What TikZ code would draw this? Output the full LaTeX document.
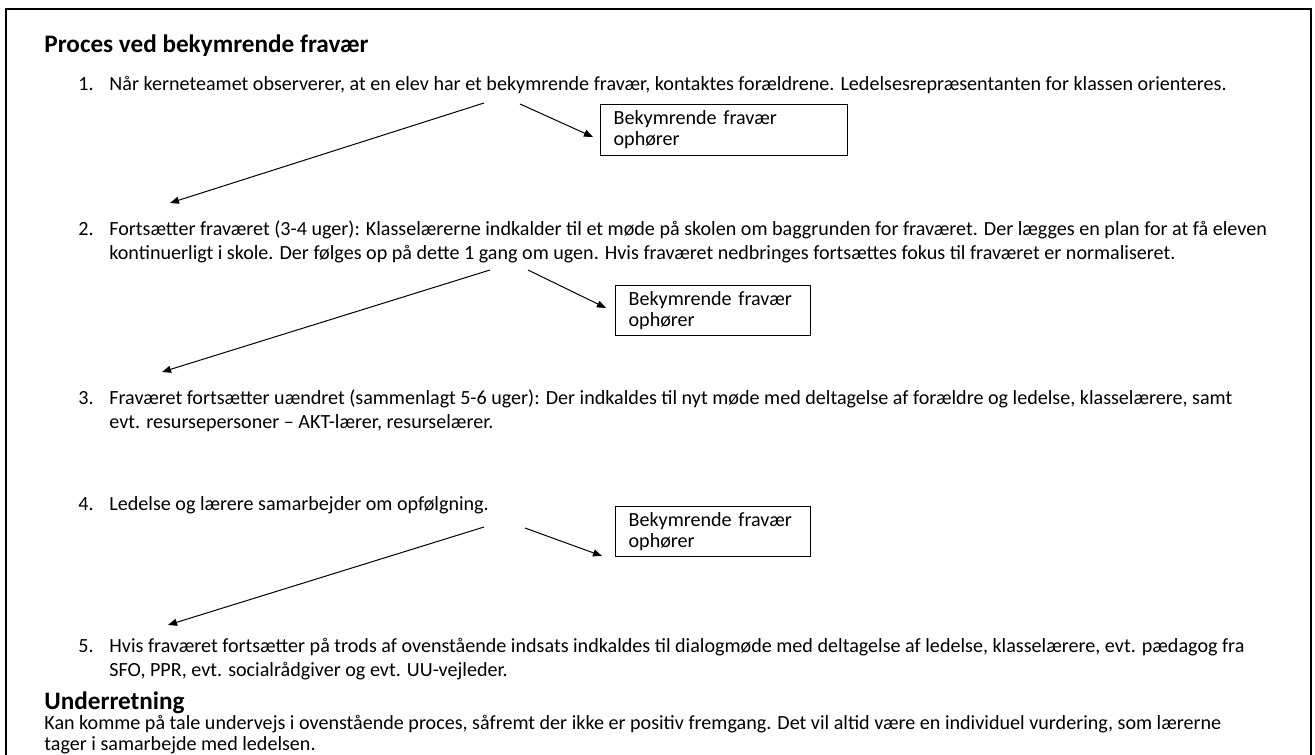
\documentclass[tikz,border=0pt]{standalone}
\usepackage{fontspec}
\setmainfont{Carlito}
\usetikzlibrary{arrows.meta}
\begin{document}
\begin{tikzpicture}[x=0.5pt,y=-0.5pt,
  body/.style={anchor=base west, inner sep=0pt, align=left, font=\fontsize{10.05}{12}\selectfont},
  head/.style={anchor=base west, inner sep=0pt, font=\fontsize{12.6}{14}\selectfont\bfseries},
  stopbox/.style={draw, line width=0.6pt, anchor=north west, align=left, inner xsep=6.5pt, inner ysep=0pt,
     font=\fontsize{10.05}{10.5}\selectfont},
  flow/.style={line width=0.5pt, -{Triangle[length=4.5pt,width=3.5pt]}}]
\useasboundingbox (0,0) rectangle (1315,754);
\draw[line width=1pt] (6,790) -- (6,9) -- (1311,9) -- (1311,790);

\node[head] (title) at (44,53) {Proces ved bekymrende fravær};

\node[body] (n1) at (78,91) {1.};
\node[body] (t1) at (109,91) {Når kerneteamet observerer, at en elev har et bekymrende fravær, kontaktes forældrene. Ledelsesrepræsentanten for klassen orienteres.};

\node[stopbox, text width=110.5pt, minimum height=25.5pt] (b1) at (600,104) {Bekymrende fravær\\ophører};

\node[body] (n2) at (78,235) {2.};
\node[body] (t2) at (109,259) {Fortsætter fraværet (3-4 uger): Klasselærerne indkalder til et møde på skolen om baggrunden for fraværet. Der lægges en plan for at få eleven\\kontinuerligt i skole. Der følges op på dette 1 gang om ugen. Hvis fraværet nedbringes fortsættes fokus til fraværet er normaliseret.};

\node[stopbox, text width=84.5pt, minimum height=25pt] (b2) at (615,285) {Bekymrende fravær\\ophører};

\node[body] (n3) at (78,404) {3.};
\node[body] (t3) at (109,428) {Fraværet fortsætter uændret (sammenlagt 5-6 uger): Der indkaldes til nyt møde med deltagelse af forældre og ledelse, klasselærere, samt\\evt. resursepersoner – AKT-lærer, resurselærer.};

\node[body] (n4) at (78,510) {4.};
\node[body] (t4) at (109,510) {Ledelse og lærere samarbejder om opfølgning.};

\node[stopbox, text width=84.5pt, minimum height=25pt] (b3) at (615,506) {Bekymrende fravær\\ophører};

\node[body] (n5) at (78,652) {5.};
\node[body] (t5) at (109,676) {Hvis fraværet fortsætter på trods af ovenstående indsats indkaldes til dialogmøde med deltagelse af ledelse, klasselærere, evt. pædagog fra\\SFO, PPR, evt. socialrådgiver og evt. UU-vejleder.};

\node[head] (under) at (44,709) {Underretning};
\node[body, font=\fontsize{10.05}{10.5}\selectfont] (t6) at (44,750) {Kan komme på tale undervejs i ovenstående proces, såfremt der ikke er positiv fremgang. Det vil altid være en individuel vurdering, som lærerne\\tager i samarbejde med ledelsen.};

\coordinate (s1l) at (484,103);
\coordinate (e1l) at (170,203);
\coordinate (s1r) at (520,104);
\coordinate (e1r) at (593,137);
\coordinate (s2l) at (490,270);
\coordinate (e2l) at (162,372);
\coordinate (s2r) at (528,270);
\coordinate (e2r) at (606,308);
\coordinate (s3l) at (484,527);
\coordinate (e3l) at (168,625);
\coordinate (s3r) at (525,528);
\coordinate (e3r) at (602,556);

\draw[flow] (s1l) -- (e1l);
\draw[flow] (s1r) -- (e1r);
\draw[flow] (s2l) -- (e2l);
\draw[flow] (s2r) -- (e2r);
\draw[flow] (s3l) -- (e3l);
\draw[flow] (s3r) -- (e3r);
\end{tikzpicture}
\end{document}
